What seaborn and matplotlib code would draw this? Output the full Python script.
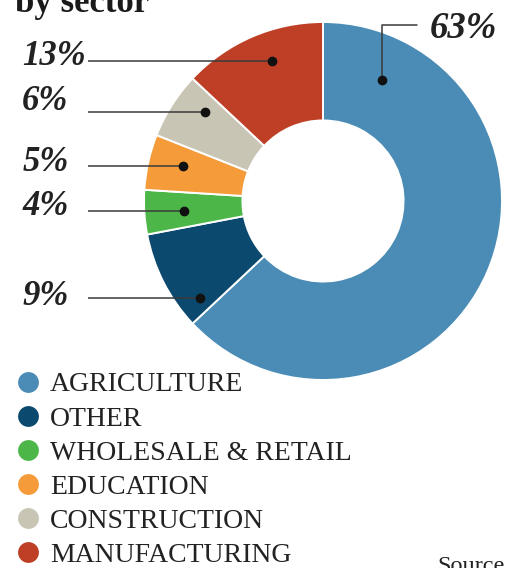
import matplotlib
matplotlib.use("Agg")
import matplotlib.pyplot as plt
from matplotlib.lines import Line2D
import seaborn as sns

# Employment share by sector (%)
sectors = ["AGRICULTURE", "OTHER", "WHOLESALE & RETAIL", "EDUCATION",
           "CONSTRUCTION", "MANUFACTURING"]
shares = [63, 9, 4, 5, 6, 13]
label_texts = [f"{v}%" for v in shares]

sector_colors = ["#4a8cb5", "#0b4a6e", "#4cb748", "#f59b3a", "#c9c5b5", "#be3f26"]

sns.set_theme(style="white")
plt.rcParams["font.family"] = ["Liberation Serif", "DejaVu Serif"]

W, H = 505, 568
fig = plt.figure(figsize=(W / 100, H / 100), dpi=100)
fig.patch.set_facecolor("white")

# donut: centre (323, 201) px, outer radius 179 px
cx, cy, R = 323, 201, 179
ax = fig.add_axes([(cx - R) / W, (H - cy - R) / H, 2 * R / W, 2 * R / H])
palette = sns.color_palette(sector_colors)
wedges, _ = ax.pie(shares, colors=palette, startangle=90, counterclock=False,
                   radius=1.0,
                   wedgeprops=dict(width=0.55, edgecolor="white", linewidth=1.4))
ax.set_xlim(-1, 1)
ax.set_ylim(-1, 1)
ax.set_aspect("equal")
ax.axis("off")

line_col = "#3a3a3a"
dot_col = "#111111"
lab_kw = dict(fontsize=25, fontweight="bold", fontstyle="italic",
              color="#222222", va="center")

# leader lines for the left-hand labels: (label y, line y, dot x), index into shares
left_layout = {
    5: (0.805, 0.782, -0.285),   # manufacturing
    4: (0.555, 0.497, -0.659),   # construction
    3: (0.215, 0.196, -0.782),   # education
    2: (-0.033, -0.056, -0.777), # wholesale & retail
    1: (-0.536, -0.542, -0.687), # other
}
for i, (ly, yl, dx) in left_layout.items():
    ax.plot([-1.313, dx], [yl, yl], color=line_col, lw=1.1, clip_on=False,
            solid_capstyle="butt")
    ax.plot([dx], [yl], "o", color=dot_col, ms=6, clip_on=False)
    ax.text(-1.68, ly, label_texts[i], ha="left", **lab_kw)

# agriculture label with an elbow leader
ax.plot([0.330, 0.330, 0.525], [0.674, 0.984, 0.984], color=line_col, lw=1.1,
        clip_on=False)
ax.plot([0.330], [0.674], "o", color=dot_col, ms=6, clip_on=False)
ax.text(0.595, 0.966, label_texts[0], ha="left", fontsize=26.5,
        fontweight="bold", fontstyle="italic", color="#222222", va="center")

# title (partly above the top edge)
fig.text(15 / W, 1 - 12.5 / H, "by sector", fontsize=25, fontweight="bold",
         color="#1a1a1a", ha="left", va="baseline")

# legend
handles = [Line2D([0], [0], marker="o", linestyle="none", markersize=15,
                  markerfacecolor=c, markeredgewidth=0) for c in palette]
fig.legend(handles, sectors, loc="upper left",
           bbox_to_anchor=(14 / W, 1 - 372 / H), frameon=False,
           fontsize=20, handlelength=1.0, handletextpad=0.3,
           labelspacing=0.31, borderpad=0, borderaxespad=0,
           labelcolor="#222222")

fig.text(437 / W, -4 / H, "Source", fontsize=17.5, color="#222222",
         ha="left", va="baseline")

fig.savefig("out.png", dpi=100, facecolor="white")
